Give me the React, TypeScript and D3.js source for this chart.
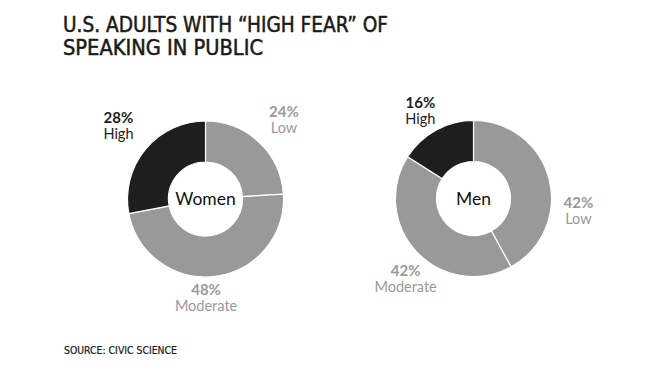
import React from "react";
import * as d3 from "d3";

// ---- data ----
const TITLE_LINES = ["U.S. ADULTS WITH \u201CHIGH FEAR\u201D OF", "SPEAKING IN PUBLIC"];
const SOURCE = "SOURCE: CIVIC SCIENCE";
const GROUPS = ["Women", "Men"];
const LEVELS = ["Low", "Moderate", "High"];
const WOMEN_VALUES = [24, 48, 28];
const MEN_VALUES = [42, 42, 16];

// ---- layout ----
const W = 647;
const H = 372;
const OUTER_R = 78;
const INNER_R = 37;
const CENTERS = [
  { x: 205.5, y: 199 },
  { x: 473.5, y: 198.5 },
];
const LABEL_R = 100;
// per-group, per-level nudges of label anchor from the arc centroid
const LABEL_NUDGE = [
  [
    { dx: 10, dy: -6 },
    { dx: -12, dy: 0 },
    { dx: -10, dy: -9 },
  ],
  [
    { dx: 8, dy: 37 },
    { dx: 5, dy: 12 },
    { dx: -5, dy: 0 },
  ],
];
const COLORS: Record<string, string> = { Low: "#999999", Moderate: "#999999", High: "#1e1e1e" };
const TEXT_COLORS: Record<string, string> = { Low: "#9a9a9a", Moderate: "#9a9a9a", High: "#1e1e1e" };
const FONT = "Lato, 'Open Sans', sans-serif";
const TITLE_FONT = "'DejaVu Sans Condensed', 'Liberation Sans Narrow', sans-serif";

type Datum = { level: string; value: number };

function Donut({ gi, values }: { gi: number; values: number[] }) {
  const data: Datum[] = LEVELS.map((level, i) => ({ level, value: values[i] }));
  const pie = d3.pie<Datum>().sort(null).value((d) => d.value);
  const arcs = pie(data);
  const arc = d3.arc<d3.PieArcDatum<Datum>>().innerRadius(INNER_R).outerRadius(OUTER_R);
  const labelArc = d3.arc<d3.PieArcDatum<Datum>>().innerRadius(LABEL_R).outerRadius(LABEL_R);
  const c = CENTERS[gi];
  return (
    <g transform={`translate(${c.x},${c.y})`}>
      {arcs.map((a) => (
        <path key={a.data.level} d={arc(a) || ""} fill={COLORS[a.data.level]} stroke="#ffffff" strokeWidth={1.2} />
      ))}
      <text x={0} y={6} textAnchor="middle" fontFamily={FONT} fontSize={17.5} fill="#111111">
        {GROUPS[gi]}
      </text>
      {arcs.map((a, i) => {
        const [lx, ly] = labelArc.centroid(a);
        const n = LABEL_NUDGE[gi][i];
        const x = lx + n.dx;
        const y = ly + n.dy;
        const col = TEXT_COLORS[a.data.level];
        return (
          <g key={"l" + a.data.level}>
            <text x={x} y={y - 3} textAnchor="middle" fontFamily={FONT} fontWeight={700} fontSize={15} fill={col}>
              {a.data.value}%
            </text>
            <text x={x} y={y + 13} textAnchor="middle" fontFamily={FONT} fontSize={14.5} fill={col}>
              {a.data.level}
            </text>
          </g>
        );
      })}
    </g>
  );
}

export default function App() {
  return (
    <svg
      width={W}
      height={H}
      viewBox={`0 0 ${W} ${H}`}
      style={{ position: "absolute", left: 0, top: 0, background: "#ffffff" }}
    >
      <rect x={0} y={0} width={W} height={H} fill="#ffffff" />
      <text x={63} y={32} fontFamily={TITLE_FONT} fontSize={21} fontWeight={400} fill="#1a1a1a" stroke="#1a1a1a" strokeWidth={0.5} textLength={325} lengthAdjust="spacingAndGlyphs">
        {TITLE_LINES[0]}
      </text>
      <text x={63} y={55} fontFamily={TITLE_FONT} fontSize={21} fontWeight={400} fill="#1a1a1a" stroke="#1a1a1a" strokeWidth={0.5} textLength={200} lengthAdjust="spacingAndGlyphs">
        {TITLE_LINES[1]}
      </text>
      <Donut gi={0} values={WOMEN_VALUES} />
      <Donut gi={1} values={MEN_VALUES} />
      <text x={64} y={354} fontFamily={TITLE_FONT} fontSize={10} fontWeight={400} fill="#1a1a1a" stroke="#1a1a1a" strokeWidth={0.2} textLength={113} lengthAdjust="spacingAndGlyphs">
        {SOURCE}
      </text>
    </svg>
  );
}
